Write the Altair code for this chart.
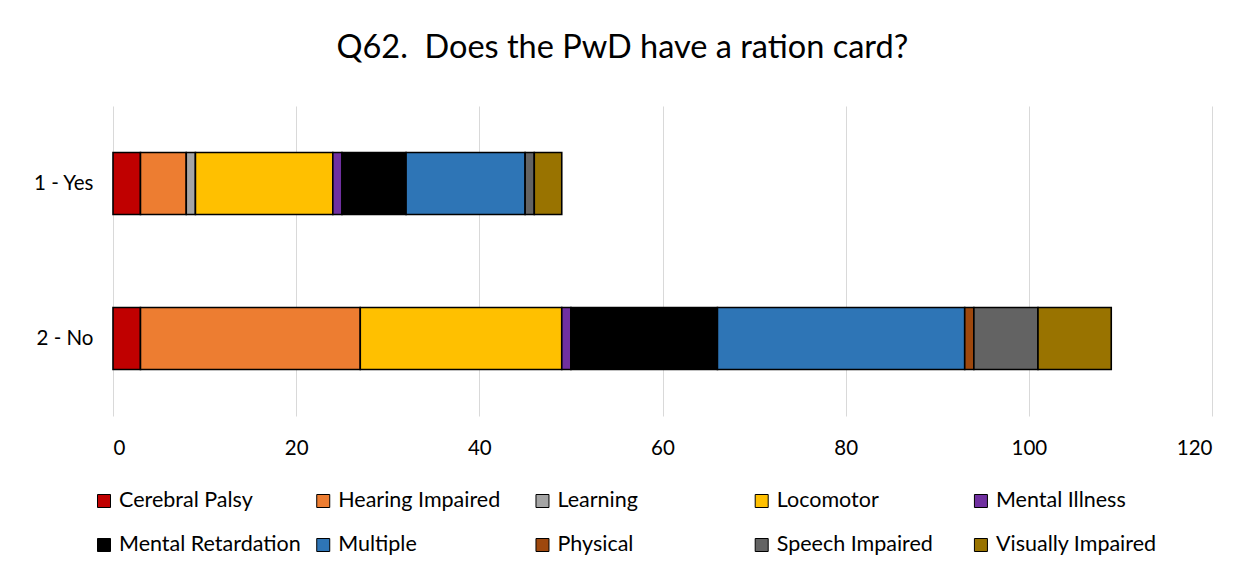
import altair as alt
import pandas as pd

categories = ["Cerebral Palsy", "Hearing Impaired", "Learning", "Locomotor", "Mental Illness",
              "Mental Retardation", "Multiple", "Physical", "Speech Impaired", "Visually Impaired"]
colors = ["#C00000", "#ED7D31", "#A5A5A5", "#FFC000", "#7030A0",
          "#000000", "#2E75B6", "#9E480E", "#636363", "#997300"]
answers = ["1 - Yes", "2 - No"]
yes_values = [3, 5, 1, 15, 1, 7, 13, 0, 1, 3]
no_values = [3, 24, 0, 22, 1, 16, 27, 1, 7, 8]
x_ticks = [0, 20, 40, 60, 80, 100, 120]
title_text = "Q62.\u00a0 Does the PwD have a ration card?"

FONT = "Lato"

rows = []
for i, c in enumerate(categories):
    rows.append({"answer": answers[0], "category": c, "order": i, "value": yes_values[i]})
    rows.append({"answer": answers[1], "category": c, "order": i, "value": no_values[i]})
df = pd.DataFrame(rows)

bars = alt.Chart(df).transform_filter("datum.value > 0").mark_bar(
    stroke="black", strokeWidth=1.6
).encode(
    x=alt.X("value:Q", stack="zero", scale=alt.Scale(domain=[0, 120]),
            axis=alt.Axis(values=x_ticks, title=None, domain=False, ticks=False, grid=True,
                          gridColor="#d9d9d9", gridWidth=1, labelFontSize=20.5, labelPadding=22,
                          labelColor="black", labelFont=FONT)),
    y=alt.Y("answer:N", scale=alt.Scale(domain=answers, paddingInner=0.6, paddingOuter=0.3),
            axis=alt.Axis(title=None, domain=False, ticks=False, labelFontSize=20.5, labelPadding=20,
                          labelColor="black", labelFont=FONT)),
    color=alt.Color("category:N", scale=alt.Scale(domain=categories, range=colors), legend=None),
    order=alt.Order("order:Q"),
).properties(width=1099, height=310)

leg_df = pd.DataFrame({
    "category": categories,
    "col": [i % 5 for i in range(len(categories))],
    "row": [i // 5 for i in range(len(categories))],
})
leg_base = alt.Chart(leg_df).encode(
    x=alt.X("col:Q", scale=alt.Scale(domain=[0.041, 5.054]), axis=None),
    y=alt.Y("row:O", axis=None),
)
leg_sym = leg_base.mark_square(size=169, stroke="black", strokeWidth=1, opacity=1).encode(
    color=alt.Color("category:N", scale=alt.Scale(domain=categories, range=colors), legend=None)
)
leg_txt = leg_base.mark_text(align="left", baseline="middle", dx=15, fontSize=21.5, font=FONT,
                             color="black").encode(text="category:N")
legend = alt.layer(leg_sym, leg_txt).properties(width=1099, height=88)

chart = alt.vconcat(bars, legend, spacing=20).properties(
    title=alt.Title(text=title_text, fontSize=32.5, font=FONT, fontWeight="normal", color="black",
                    anchor="middle", offset=42),
    padding={"left": 24, "top": 23, "right": 5, "bottom": 5},
).configure_view(stroke=None)

chart.save("out.html", embed_options={"renderer": "svg", "actions": False})
